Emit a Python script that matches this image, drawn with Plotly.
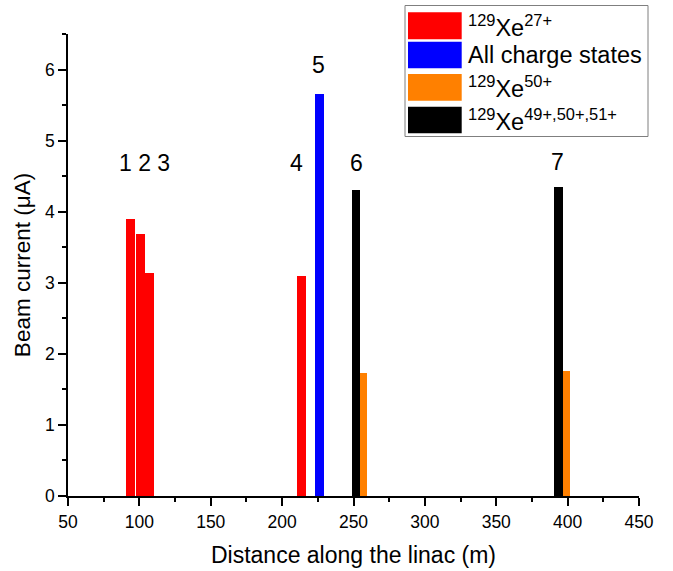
import plotly.graph_objects as go

# ---- data ----
red_x = [93.9, 100.6, 107.2, 213.5]
red_y = [3.90, 3.68, 3.14, 3.10]
blue_x = [226.3]
blue_y = [5.66]
black_x = [251.9, 393.7]
black_y = [4.31, 4.35]
orange_x = [257.3, 399.0]
orange_y = [1.73, 1.76]

peak_labels = ["1 2 3", "4", "5", "6", "7"]
peak_label_x = [103.5, 210.0, 225.6, 252.0, 393.0]
peak_label_y = [4.68, 4.68, 6.07, 4.68, 4.70]

legend_names = ["<sup>129</sup>Xe<sup>27+</sup>", "All charge states",
                "<sup>129</sup>Xe<sup>50+</sup>", "<sup>129</sup>Xe<sup>49+,50+,51+</sup>"]

x_ticks = [50, 100, 150, 200, 250, 300, 350, 400, 450]
y_ticks = [0, 1, 2, 3, 4, 5, 6]

# ---- layout geometry ----
W, H = 673, 571
ML, MR, MT, MB = 68, 34, 34, 75
PW, PH = W - ML - MR, H - MT - MB

def px(xp):
    return (xp - ML) / PW

def py(yp):
    return (H - MB - yp) / PH

FONT = "Liberation Sans, Arial, sans-serif"
RED, BLUE, ORANGE, BLACK = "#ff0000", "#0000ff", "#ff8000", "#000000"
colors = [RED, BLUE, ORANGE, BLACK]

fig = go.Figure()
fig.add_trace(go.Bar(x=red_x, y=red_y, width=6.0, marker=dict(color=RED, line=dict(width=0)),
                     showlegend=False, name="Xe27+"))
fig.add_trace(go.Bar(x=blue_x, y=blue_y, width=6.0, marker=dict(color=BLUE, line=dict(width=0)),
                     showlegend=False, name="All charge states"))
fig.add_trace(go.Bar(x=black_x, y=black_y, width=5.8, marker=dict(color=BLACK, line=dict(width=0)),
                     showlegend=False, name="Xe49+,50+,51+"))
fig.add_trace(go.Bar(x=orange_x, y=orange_y, width=5.0, marker=dict(color=ORANGE, line=dict(width=0)),
                     showlegend=False, name="Xe50+"))

annotations = []
for t, xx, yy in zip(peak_labels, peak_label_x, peak_label_y):
    annotations.append(dict(x=xx, y=yy, xref="x", yref="y", text=t, showarrow=False,
                            font=dict(family=FONT, size=23, color="black"),
                            xanchor="center", yanchor="middle"))

shapes = []
# legend box
shapes.append(dict(type="rect", xref="paper", yref="paper",
                   x0=px(405), x1=px(648), y0=py(136.5), y1=py(5.5),
                   line=dict(color="#7f7f7f", width=1), fillcolor="white", layer="above"))
rows = [(12.3, 39.3), (41.7, 68.3), (74.0, 100.7), (106.7, 133.3)]
for (r0, r1), c, name in zip(rows, colors, legend_names):
    shapes.append(dict(type="rect", xref="paper", yref="paper",
                       x0=px(408), x1=px(461.7), y0=py(r1), y1=py(r0),
                       line=dict(width=0), fillcolor=c, layer="above"))
    annotations.append(dict(x=px(466), y=py((r0 + r1) / 2), xref="paper", yref="paper",
                            text=name, showarrow=False, xanchor="left", yanchor="middle",
                            font=dict(family=FONT, size=23.5, color="black")))

axis_common = dict(showline=True, linecolor="black", linewidth=1.5, ticks="outside",
                   ticklen=8, tickwidth=1.5, tickcolor="black", showgrid=False, zeroline=False,
                   tickfont=dict(family=FONT, size=17.5, color="black"), mirror=False,
                   automargin=False)

fig.update_layout(
    width=W, height=H,
    margin=dict(l=ML, r=MR, t=MT, b=MB, autoexpand=False),
    plot_bgcolor="white", paper_bgcolor="white",
    barmode="overlay", bargap=0,
    font=dict(family=FONT, color="black"),
    xaxis=dict(range=[50, 450], tickvals=x_ticks, ticktext=[str(v) for v in x_ticks],
               minor=dict(dtick=25, tick0=50, ticks="outside", ticklen=4, tickwidth=1.5, tickcolor="black"),
               ticklabelstandoff=1,
               title=dict(text="Distance along the linac (m)", font=dict(family=FONT, size=23), standoff=16),
               **axis_common),
    yaxis=dict(range=[0, 6.5], tickvals=y_ticks, ticktext=[str(v) for v in y_ticks],
               minor=dict(dtick=0.5, tick0=0, ticks="outside", ticklen=4, tickwidth=1.5, tickcolor="black"),
               title=dict(text="Beam current (\u03bcA)", font=dict(family=FONT, size=22.5), standoff=8),
               **axis_common),
    annotations=annotations,
    shapes=shapes,
)

fig.write_html("out.html", config={"displayModeBar": False},
               post_script="document.body.style.margin='0';document.body.style.padding='0';")
